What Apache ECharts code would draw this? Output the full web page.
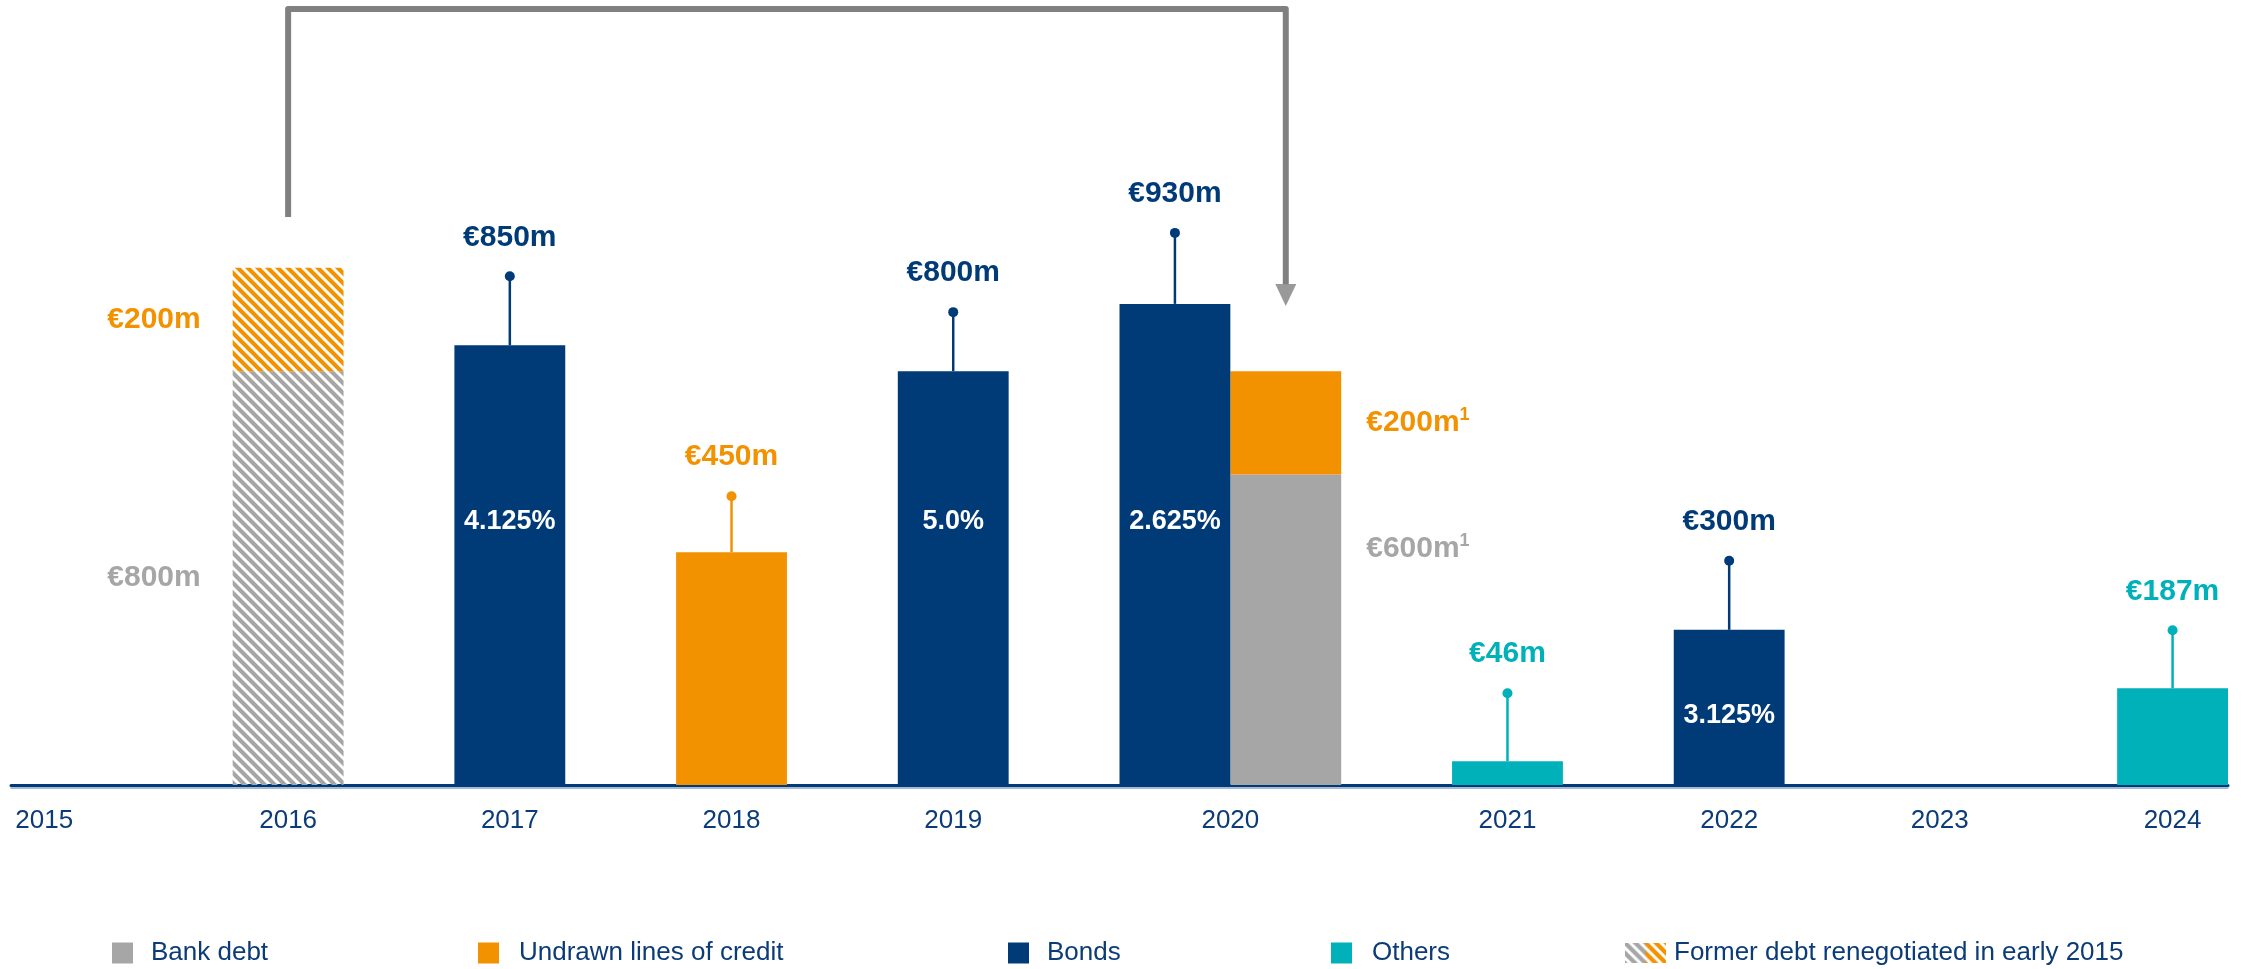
<!DOCTYPE html>
<html>
<head>
<meta charset="utf-8">
<script src="https://cdn.jsdelivr.net/npm/echarts@6/dist/echarts.min.js"></script>
<style>
  html, body { margin: 0; padding: 0; background: #ffffff; }
  #chart { width: 2247px; height: 969px; }
</style>
</head>
<body>
<div id="chart"></div>
<script>
// Debt maturity profile (€m)
const yearLabels = ['2015', '2016', '2017', '2018', '2019', '2020', '2021', '2022', '2023', '2024'];
const formerDebtYears = ['2016'];
const formerBankDebt = [800];
const formerCreditLines = [200];
const bondYears = ['2017', '2019', '2020', '2022'];
const bondAmounts = [850, 800, 930, 300];
const bondCoupons = ['4.125%', '5.0%', '2.625%', '3.125%'];
const creditLineYears = ['2018', '2020'];
const creditLineAmounts = [450, 200];
const bankDebtYears = ['2020'];
const bankDebtAmounts = [600];
const otherYears = ['2021', '2024'];
const otherAmounts = [46, 187];
const legendNames = ['Bank debt', 'Undrawn lines of credit', 'Bonds', 'Others', 'Former debt renegotiated in early 2015'];

const FONT = '"Liberation Sans", Arial, Helvetica, sans-serif';
const C = {
  navy: '#003B78', orange: '#F39200', grey: '#A6A6A6', teal: '#00B1B9',
  arrow: '#808080', text: '#0B3C78', axisShade: '#8AA4C8'
};

// The x axis is cut into 20 half-width slots; every bar fills one slot.
const SLOTS = 20;
const baseSlot = { 2016: 2, 2017: 4, 2018: 6, 2019: 8, 2020: 10, 2021: 13, 2022: 15, 2023: 17, 2024: 19 };
// 2020 holds two bars side by side: the bond, then bank debt + credit lines
function slotOf(year, kind) {
  const s = baseSlot[year];
  return (year === '2020' && kind !== 'bond') ? s + 1 : s;
}
// where each year caption sits, in slot units
const yearLabelAt = [0.3, 2.5, 4.5, 6.5, 8.5, 11, 13.5, 15.5, 17.4, 19.5];

function slotData(years, amounts, kind, extra) {
  const arr = new Array(SLOTS).fill('-');
  years.forEach((y, i) => {
    const item = { value: amounts[i] };
    if (extra) Object.assign(item, extra(y, i));
    arr[slotOf(y, kind)] = item;
  });
  return arr;
}

// diagonal hatching tiles
function hatchCanvas(w, h, paint) {
  const c = document.createElement('canvas');
  c.width = w; c.height = h;
  const g = c.getContext('2d');
  g.lineWidth = 4.2;
  g.lineCap = 'butt';
  paint(g);
  return c;
}
function stripes(g, color, w, h) {
  g.strokeStyle = color;
  g.beginPath();
  for (let x0 = -h - 10; x0 <= w + 10; x0 += 10) {
    g.moveTo(x0 - 3, -3);
    g.lineTo(x0 + h + 3, h + 3);
  }
  g.stroke();
}
const greyHatch = { image: hatchCanvas(10, 10, g => stripes(g, C.grey, 10, 10)), repeat: 'repeat' };
const orangeHatch = { image: hatchCanvas(10, 10, g => stripes(g, C.orange, 10, 10)), repeat: 'repeat' };
const formerIcon = hatchCanvas(40, 20, g => {
  g.save(); g.beginPath(); g.rect(0, 0, 20, 20); g.clip(); stripes(g, C.grey, 40, 20); g.restore();
  g.save(); g.beginPath(); g.rect(20, 0, 20, 20); g.clip(); stripes(g, C.orange, 40, 20); g.restore();
}).toDataURL();

const valueFont = { fontFamily: FONT, fontWeight: 'bold', fontSize: 30 };
function sideLabel(text, color, position, distance, dy, sup) {
  return {
    label: {
      show: true, position, distance, offset: [0, dy || 0],
      formatter: sup ? '{v|' + text + '}{s|1}' : '{v|' + text + '}',
      rich: {
        v: Object.assign({ color, lineHeight: 34 }, valueFont),
        s: { color, fontFamily: FONT, fontWeight: 'bold', fontSize: 18, lineHeight: 18, verticalAlign: 'top' }
      }
    }
  };
}

// coupon captions inside the bond bars (lift from the bar foot, px)
const couponLift = { 2017: 248, 2019: 248, 2020: 248, 2022: 54 };

// lollipop pins above bars: stem length in px
const stemPx = { 2017: 69, 2018: 56, 2019: 59, 2020: 71, 2021: 68, 2022: 69, 2024: 58 };
const pins = [];
bondYears.forEach((y, i) => pins.push({ year: y, slot: slotOf(y, 'bond'), amount: bondAmounts[i], color: C.navy }));
pins.push({ year: creditLineYears[0], slot: slotOf(creditLineYears[0], 'line'), amount: creditLineAmounts[0], color: C.orange });
otherYears.forEach((y, i) => pins.push({ year: y, slot: slotOf(y, 'other'), amount: otherAmounts[i], color: C.teal }));

// refinancing arrow from the 2016 bar to the 2020 bank-debt bar (value units)
const ARROW_FROM = 1098, ARROW_TOP = 1500, ARROW_END = 968, ARROW_HEAD = 947;
const arrowFromSlot = slotOf(formerDebtYears[0], 'former');
const arrowToSlot = slotOf(bankDebtYears[0], 'bank');

const barCommon = { type: 'bar', stack: 'debt', barCategoryGap: '0%', barGap: '0%', silent: true };

const chart = echarts.init(document.getElementById('chart'), null, { renderer: 'canvas' });
chart.setOption({
  animation: false,
  backgroundColor: '#ffffff',
  grid: { left: 11, right: 19, top: 9, bottom: 184, containLabel: false },
  xAxis: [
    {
      type: 'category',
      data: Array.from({ length: SLOTS }, (_, i) => String(i)),
      boundaryGap: true,
      axisLine: { show: true, lineStyle: { color: C.navy, width: 3 } },
      axisTick: { show: false },
      axisLabel: { show: false },
      splitLine: { show: false }
    },
    {
      type: 'value', min: 0, max: SLOTS, position: 'bottom', offset: 2.5,
      axisLine: { show: true, onZero: false, lineStyle: { color: C.axisShade, width: 1.5 } },
      axisTick: { show: false }, splitLine: { show: false },
      axisLabel: {
        show: true, customValues: yearLabelAt, hideOverlap: false, margin: 20.5,
        color: C.text, fontFamily: FONT, fontSize: 26, lineHeight: 26,
        formatter: v => {
          const k = yearLabelAt.findIndex(p => Math.abs(p - v) < 1e-6);
          return k >= 0 ? yearLabels[k] : '';
        }
      }
    }
  ],
  yAxis: { type: 'value', min: 0, max: 1500, show: false, splitLine: { show: false } },
  legend: legendNames.map((name, i) => {
    const at = [
      { left: 112, gap: 13 }, { left: 478, gap: 15 }, { left: 1008, gap: 13 },
      { left: 1331, gap: 15 }, { left: 1625, gap: 3 }
    ][i];
    return {
      left: at.left, top: 940, padding: 0, selectedMode: false,
      itemWidth: i === 4 ? 41 : 21, itemHeight: 21,
      data: [{ name, icon: i === 4 ? 'image://' + formerIcon : 'rect' }],
      textStyle: { color: C.text, fontFamily: FONT, fontSize: 26, lineHeight: 26, padding: [0, 0, 0, at.gap] }
    };
  }),
  series: [
    Object.assign({}, barCommon, {
      name: 'Bank debt', itemStyle: { color: C.grey },
      data: slotData(bankDebtYears, bankDebtAmounts, 'bank',
        () => sideLabel('€600m', C.grey, 'right', 25, -81, true))
    }),
    Object.assign({}, barCommon, {
      name: 'Undrawn lines of credit', itemStyle: { color: C.orange },
      data: slotData(creditLineYears, creditLineAmounts, 'line',
        y => (y === '2020' ? sideLabel('€200m', C.orange, 'right', 25, 0, true) : {}))
    }),
    Object.assign({}, barCommon, {
      name: 'Bonds', itemStyle: { color: C.navy },
      data: slotData(bondYears, bondAmounts, 'bond', (y, i) => ({
        label: {
          show: true, position: 'insideBottom', distance: couponLift[y],
          formatter: bondCoupons[i], color: '#ffffff',
          fontFamily: FONT, fontWeight: 'bold', fontSize: 27, lineHeight: 30
        }
      }))
    }),
    Object.assign({}, barCommon, {
      name: 'Others', itemStyle: { color: C.teal },
      data: slotData(otherYears, otherAmounts, 'other')
    }),
    Object.assign({}, barCommon, {
      name: 'Former debt renegotiated in early 2015', itemStyle: { color: greyHatch },
      data: slotData(formerDebtYears, formerBankDebt, 'former',
        () => sideLabel('€' + formerBankDebt[0] + 'm', C.grey, 'left', 32, 0, false))
    }),
    Object.assign({}, barCommon, {
      name: 'Former credit lines', itemStyle: { color: orangeHatch },
      data: slotData(formerDebtYears, formerCreditLines, 'former',
        () => sideLabel('€' + formerCreditLines[0] + 'm', C.orange, 'left', 32, 0, false))
    }),
    {
      name: 'pins', type: 'custom', silent: true, clip: false, z: 5,
      data: pins.map(p => [p.slot, p.amount]),
      renderItem: (params, api) => {
        const p = pins[params.dataIndex];
        const top = api.coord([api.value(0), api.value(1)]);
        const dotY = top[1] - stemPx[p.year];
        return {
          type: 'group',
          children: [
            { type: 'line', shape: { x1: top[0], y1: top[1], x2: top[0], y2: dotY },
              style: { stroke: p.color, lineWidth: 2.5 } },
            { type: 'circle', shape: { cx: top[0], cy: dotY, r: 5 }, style: { fill: p.color } },
            { type: 'text', style: {
                x: top[0], y: dotY - 39, text: '€' + p.amount + 'm', fill: p.color,
                font: 'bold 30px ' + FONT, align: 'center', verticalAlign: 'middle' } }
          ]
        };
      }
    },
    {
      name: 'refinancing', type: 'line', silent: true, clip: false, z: 4,
      showSymbol: false, symbol: 'none',
      lineStyle: { color: C.arrow, width: 6, join: 'round', cap: 'butt' },
      data: [[arrowFromSlot, ARROW_FROM], [arrowFromSlot, ARROW_TOP], [arrowToSlot, ARROW_TOP], [arrowToSlot, ARROW_END]]
    },
    {
      name: 'refinancing head', type: 'scatter', silent: true, clip: false, z: 4,
      symbol: 'triangle', symbolRotate: 180, symbolSize: [21, 22],
      itemStyle: { color: C.arrow },
      data: [[arrowToSlot, ARROW_HEAD]]
    }
  ]
});
</script>
</body>
</html>
